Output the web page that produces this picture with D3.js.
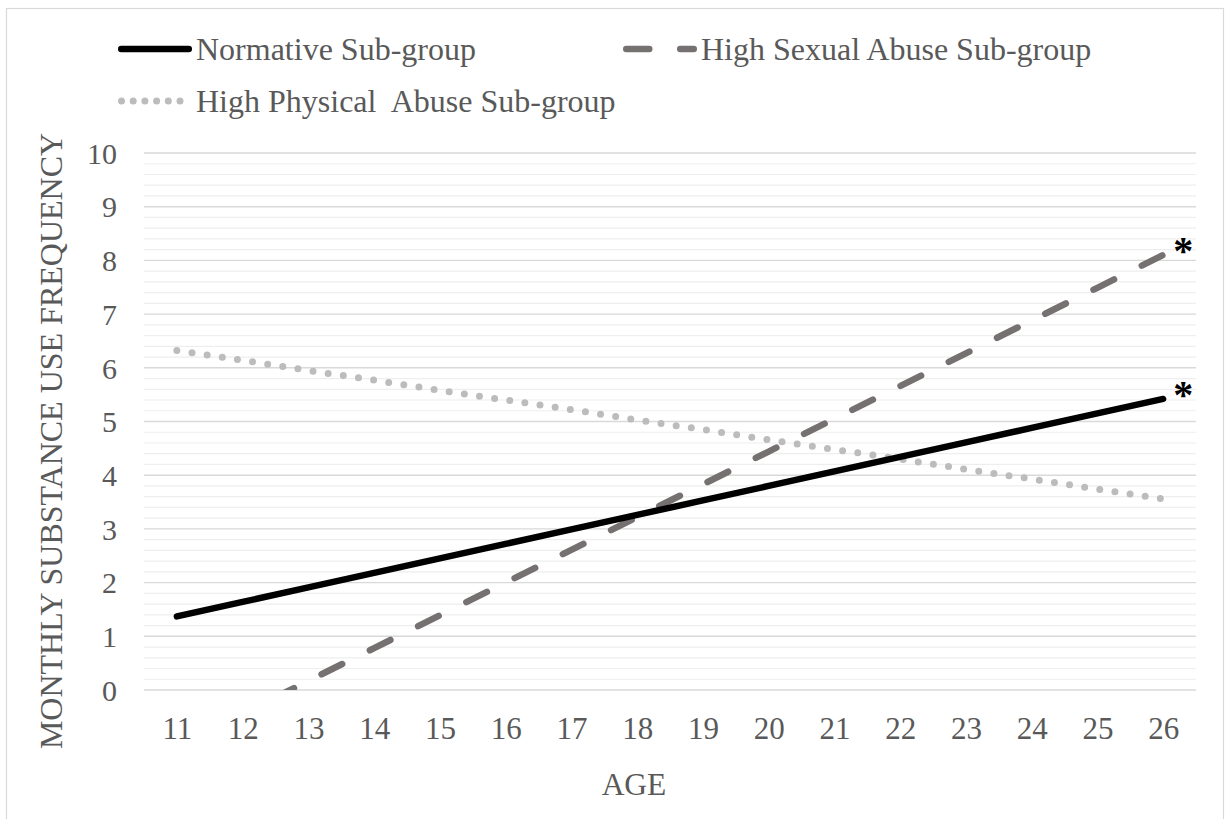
<!DOCTYPE html>
<html>
<head>
<meta charset="utf-8">
<script src="https://cdn.jsdelivr.net/npm/d3@7"></script>
<style>
  html, body { margin: 0; padding: 0; background: #fff; }
  svg { display: block; }
  text { font-family: "Liberation Serif", "Times New Roman", serif; fill: #595959; white-space: pre; }
</style>
</head>
<body>
<svg id="chart" width="1226" height="819"></svg>
<script>
// Ages on the horizontal axis
const ages = ["11","12","13","14","15","16","17","18","19","20","21","22","23","24","25","26"];
// Y-axis major tick labels
const yTicks = [0,1,2,3,4,5,6,7,8,9,10];

// Estimated monthly substance use frequency by sub-group
const normative     = [1.37,1.64,1.91,2.18,2.45,2.72,2.99,3.26,3.53,3.80,4.07,4.34,4.61,4.88,5.15,5.42];
const sexualAbuse   = [-1.05,-0.44,0.17,0.78,1.39,2.00,2.61,3.22,3.83,4.44,5.05,5.66,6.27,6.88,7.49,8.10];
const physicalAbuse = [6.32,6.14,5.95,5.77,5.58,5.40,5.22,5.03,4.85,4.66,4.48,4.30,4.11,3.93,3.74,3.56];

const seriesNames = ["Normative Sub-group", "High Sexual Abuse Sub-group", "High Physical  Abuse Sub-group"];
// Groups whose trajectories are flagged as significant
const flagged = ["Normative Sub-group", "High Sexual Abuse Sub-group"];

const plot = { left: 144, right: 1196, top: 153, bottom: 690 };

const svg = d3.select("#chart");

// Outer frame
svg.append("rect")
  .attr("x", 6.5).attr("y", 8.5)
  .attr("width", 1217).attr("height", 830)
  .attr("fill", "none").attr("stroke", "#d9d9d9").attr("stroke-width", 1.2);

const x = d3.scalePoint().domain(ages).range([plot.left, plot.right]).padding(0.5);
const y = d3.scaleLinear().domain([0, 10]).range([plot.bottom, plot.top]);

// Minor gridlines every 0.2
const minor = d3.range(0, 10.001, 0.2).filter(v => Math.abs(v - Math.round(v)) > 1e-6);
svg.append("g").selectAll("line").data(minor).join("line")
  .attr("x1", plot.left).attr("x2", plot.right)
  .attr("y1", d => y(d)).attr("y2", d => y(d))
  .attr("stroke", "#eeeeee").attr("stroke-width", 1.2);

// Major gridlines
svg.append("g").selectAll("line").data(yTicks).join("line")
  .attr("x1", plot.left).attr("x2", plot.right)
  .attr("y1", d => y(d)).attr("y2", d => y(d))
  .attr("stroke", "#d9d9d9").attr("stroke-width", 1.4);

// Y axis labels
const yAxis = d3.axisLeft(y).tickValues(yTicks).tickSize(0).tickPadding(0).tickFormat(d3.format("d"));
const yg = svg.append("g").attr("transform", `translate(117,0)`).call(yAxis);
yg.select(".domain").remove();
yg.selectAll("text").attr("font-size", 30).attr("fill", "#595959")
  .attr("font-family", "Liberation Serif").attr("dy", "0.34em");

// X axis labels
const xAxis = d3.axisBottom(x).tickSize(0).tickPadding(0);
const xg = svg.append("g").attr("transform", `translate(0,717)`).call(xAxis);
xg.select(".domain").remove();
xg.selectAll("text").attr("font-size", 31).attr("fill", "#595959")
  .attr("font-family", "Liberation Serif").attr("dy", "0.72em");

// Axis titles
svg.append("text")
  .attr("x", (plot.left + plot.right) / 2 - 36).attr("y", 795)
  .attr("text-anchor", "middle").attr("font-size", 31.5)
  .text("AGE");

svg.append("text")
  .attr("transform", "translate(62,441) rotate(-90)")
  .attr("text-anchor", "middle").attr("font-size", 32)
  .text("MONTHLY SUBSTANCE USE FREQUENCY");

// Series
const styles = [
  { name: seriesNames[0], values: normative,     color: "#000000", width: 6.5, dash: null,      cap: "round" },
  { name: seriesNames[1], values: sexualAbuse,   color: "#767171", width: 6.5, dash: "23,30.9", cap: "round" },
  { name: seriesNames[2], values: physicalAbuse, color: "#bcbcbc", width: 7,   dash: "0,15.3",  cap: "round" }
];

svg.append("clipPath").attr("id", "plotClip")
  .append("rect")
  .attr("x", plot.left - 10).attr("y", plot.top)
  .attr("width", plot.right - plot.left + 20).attr("height", plot.bottom - plot.top);

const line = d3.line().x((d, i) => x(ages[i])).y(d => y(d));

const lines = svg.append("g").attr("clip-path", "url(#plotClip)");
// dotted first, then dashed, then solid on top
[styles[2], styles[1], styles[0]].forEach(s => {
  lines.append("path")
    .datum(s.values)
    .attr("d", line)
    .attr("fill", "none")
    .attr("stroke", s.color)
    .attr("stroke-width", s.width)
    .attr("stroke-linecap", s.cap)
    .attr("stroke-dasharray", s.dash);
});

// Significance markers at the series end points
styles.filter(s => flagged.includes(s.name)).forEach(s => {
  const last = s.values[s.values.length - 1];
  svg.append("text")
    .attr("x", x(ages[ages.length - 1]) + 20)
    .attr("y", y(last) + 9)
    .attr("text-anchor", "middle")
    .attr("font-size", 40)
    .attr("font-weight", "bold")
    .style("fill", "#000")
    .text("*");
});

// Legend
const legendItems = [
  { s: styles[0], x: 118, y: 49, legendDash: null },
  { s: styles[1], x: 623, y: 49, legendDash: "23,31" },
  { s: styles[2], x: 118, y: 101, legendDash: "0,11.7" }
];
legendItems.forEach(it => {
  const g = svg.append("g");
  const half = it.s.width / 2;
  g.append("line")
    .attr("x1", it.x + half).attr("x2", it.x + 74 - half)
    .attr("y1", it.y).attr("y2", it.y)
    .attr("stroke", it.s.color).attr("stroke-width", it.s.width)
    .attr("stroke-linecap", "round")
    .attr("stroke-dasharray", it.legendDash);
  g.append("text")
    .attr("x", it.x + 78).attr("y", it.y + 11)
    .attr("font-size", 32)
    .text(it.s.name);
});
</script>
</body>
</html>
